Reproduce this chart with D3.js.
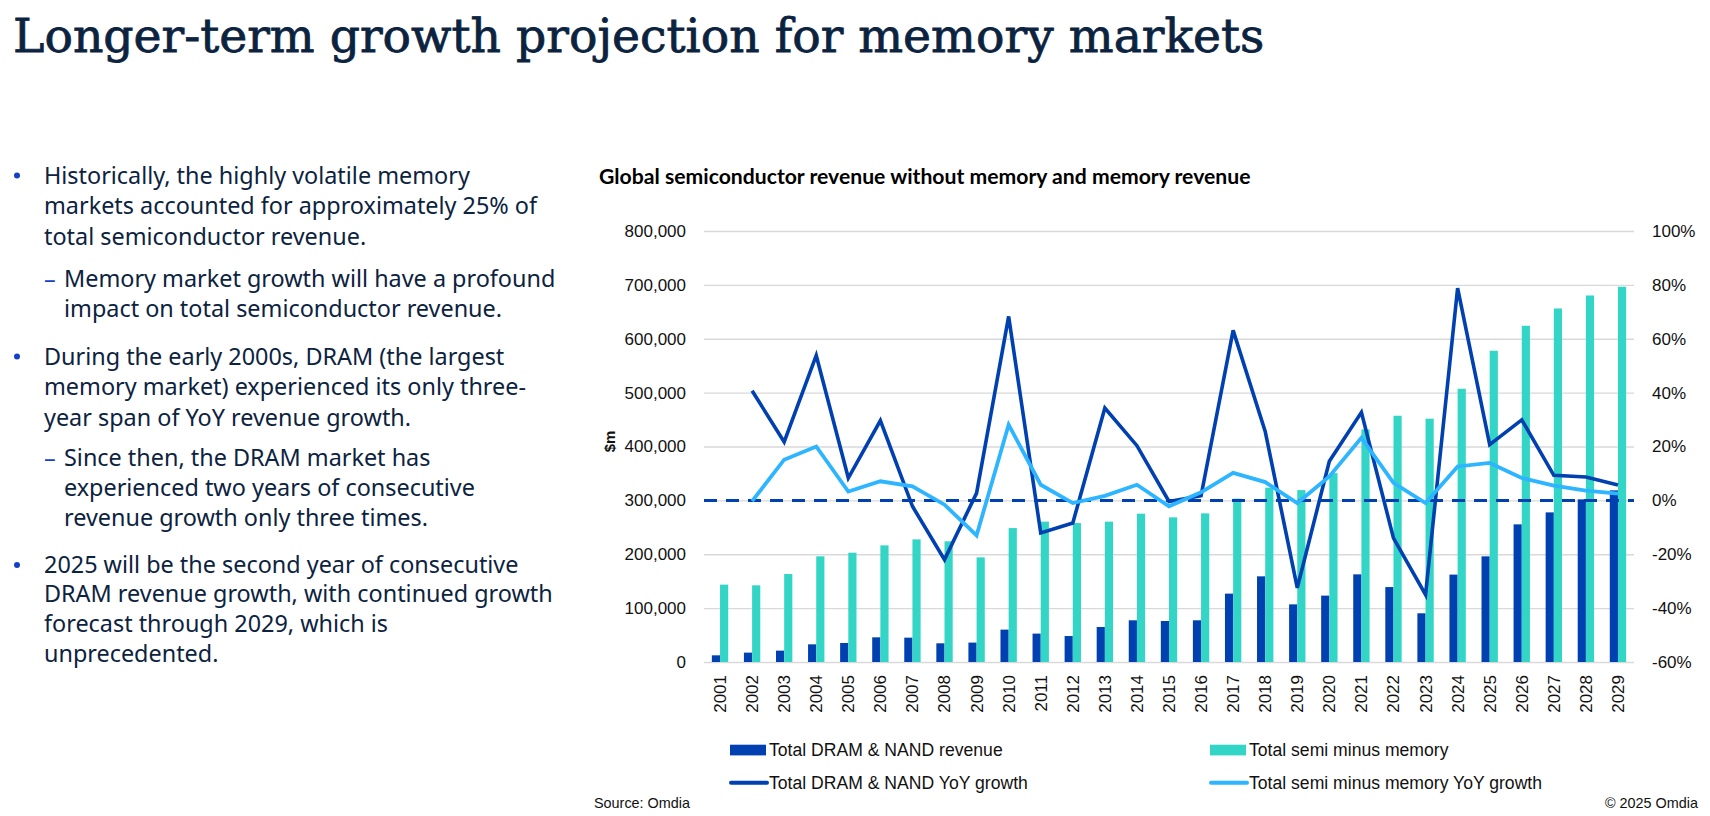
<!DOCTYPE html>
<html>
<head>
<meta charset="utf-8">
<script src="https://cdn.jsdelivr.net/npm/d3@7"></script>
<style>
  body { margin: 0; background: #fff; }
  svg { display: block; }
</style>
</head>
<body>
<div id="chart"></div>
<script>
// values
var years = ["2001","2002","2003","2004","2005","2006","2007","2008","2009","2010",
             "2011","2012","2013","2014","2015","2016","2017","2018","2019","2020",
             "2021","2022","2023","2024","2025","2026","2027","2028","2029"];

var memRevenue = [12400, 17400, 21100, 32800, 35300, 45800, 45200, 34700, 36000, 60100,
                  52700, 48200, 65000, 77400, 76100, 77400, 126900, 159000, 107000, 123200,
                  162700, 139100, 90400, 162200, 196100, 255500, 277700, 301900, 318600];

var semiNoMem = [143600, 142300, 163300, 196100, 202900, 216500, 227600, 224000, 194200, 248600,
                 260500, 257900, 260500, 275300, 268500, 275900, 303200, 323600, 319100, 350600,
                 431700, 457100, 451600, 507200, 577700, 624100, 656200, 680300, 696500];

// YoY growth, 2001 has no value
var memGrowth = [null, 0.407, 0.217, 0.538, 0.083, 0.296, -0.022, -0.220, 0.027, 0.683,
                 -0.121, -0.084, 0.343, 0.203, -0.004, 0.017, 0.631, 0.256, -0.325, 0.145,
                 0.327, -0.140, -0.350, 0.788, 0.207, 0.299, 0.093, 0.087, 0.057];

var semiGrowth = [null, -0.003, 0.151, 0.200, 0.033, 0.071, 0.052, -0.016, -0.130, 0.281,
                  0.058, -0.010, 0.017, 0.058, -0.022, 0.030, 0.102, 0.068, -0.010, 0.089,
                  0.232, 0.065, -0.010, 0.126, 0.139, 0.083, 0.055, 0.036, 0.025];

var leftTicks = [0, 100000, 200000, 300000, 400000, 500000, 600000, 700000, 800000];
var rightTicks = [-0.6, -0.4, -0.2, 0, 0.2, 0.4, 0.6, 0.8, 1.0];

var bullets = [
  {lvl: 0, lines: ["Historically, the highly volatile memory", "markets accounted for approximately 25% of", "total semiconductor revenue."]},
  {lvl: 1, lines: ["Memory market growth will have a profound", "impact on total semiconductor revenue."]},
  {lvl: 0, lines: ["During the early 2000s, DRAM (the largest", "memory market) experienced its only three-", "year span of YoY revenue growth."]},
  {lvl: 1, lines: ["Since then, the DRAM market has", "experienced two years of consecutive", "revenue growth only three times."]},
  {lvl: 0, lines: ["2025 will be the second year of consecutive", "DRAM revenue growth, with continued growth", "forecast through 2029, which is", "unprecedented."]}
];

function init(){
    var W = 1710, H = 816;
    var left = 704, right = 1634, top = 231, bottom = 662;
    var darkBlue = "#0040b0", teal = "#33d6c6", lightBlue = "#2db5ff";
    var navy = "#0c2340";
    var axisFont = "'Liberation Sans', Arial, sans-serif";

    var svg = d3.select("#chart").append("svg")
                .attr("width", W)
                .attr("height", H);

    // page title
    var title = svg.append("text")
        .attr("x", 13)
        .attr("y", 52)
        .style("font-family", "'DejaVu Serif', serif")
        .style("font-size", "52px")
        .style("fill", navy)
        .style("stroke", navy)
        .style("stroke-width", 0.8)
        .text("Longer-term growth projection for memory markets");
    var tl = title.node().getComputedTextLength();
    if (tl > 1252) title.style("font-size", (52 * 1252 / tl) + "px");

    // bullet text
    var lineY = [175.6, 206, 236.6, 279, 308.6, 356.6, 387, 417.7, 458, 487.5, 518, 565, 594, 623.8, 654];
    var k = 0;
    var txt = svg.append("g")
        .style("font-family", "'Noto Sans', 'Open Sans', sans-serif")
        .style("font-size", "23.4px")
        .style("fill", navy);
    bullets.forEach(function(b) {
        var tx = b.lvl == 0 ? 44 : 64;
        if (b.lvl == 0) {
            txt.append("circle").attr("cx", 17).attr("cy", lineY[k]).attr("r", 3).attr("fill", "#1340c8");
        } else {
            txt.append("text").attr("x", 44).attr("y", lineY[k]).attr("dy", "0.35em")
                .style("fill", "#1340c8").text("\u2013");
        }
        b.lines.forEach(function(l) {
            txt.append("text")
                .attr("x", tx)
                .attr("y", lineY[k])
                .attr("dy", "0.35em")
                .text(l);
            k++;
        });
    });

    // chart title
    var ct = svg.append("text")
        .attr("x", 599)
        .attr("y", 176.7)
        .attr("dy", "0.35em")
        .style("font-family", "Lato, sans-serif")
        .style("font-weight", "bold")
        .style("font-size", "19px")
        .style("fill", "#000")
        .text("Global semiconductor revenue without memory and memory revenue");
    var cl = ct.node().getComputedTextLength();
    ct.style("font-size", (19 * 652 / cl) + "px");

    var xscale = d3.scaleBand()
                    .domain(years)
                    .range([left, right])
                    .padding(0);

    var yL = d3.scaleLinear()
                .domain([0, 800000])
                .range([bottom, top]);

    var yR = d3.scaleLinear()
                .domain([-0.6, 1.0])
                .range([bottom, top]);

    // gridlines
    svg.append("g")
        .attr("class", "grid")
        .attr("transform", "translate(" + left + ",0)")
        .call(d3.axisLeft(yL).tickValues(leftTicks).tickSize(-(right - left)).tickFormat(""))
        .call(function(g) { g.select(".domain").remove(); })
        .selectAll("line")
        .attr("stroke", "#d9d9d9")
        .attr("stroke-width", 1.3);

    // left axis
    var la = svg.append("g")
        .attr("transform", "translate(" + left + ",0)")
        .call(d3.axisLeft(yL).tickValues(leftTicks).tickSize(0).tickPadding(18).tickFormat(d3.format(",")));
    la.select(".domain").remove();
    la.selectAll("text").style("font-family", axisFont).style("font-size", "17px").style("fill", "#111");

    // right axis (plain hyphen for negatives, like the original)
    var ra = svg.append("g")
        .attr("transform", "translate(" + right + ",0)")
        .call(d3.axisRight(yR).tickValues(rightTicks).tickSize(0).tickPadding(18)
              .tickFormat(function(d) { return Math.round(d * 100) + "%"; }));
    ra.select(".domain").remove();
    ra.selectAll("text").style("font-family", axisFont).style("font-size", "17px").style("fill", "#111");

    // bottom axis, rotated years
    var ba = svg.append("g")
        .attr("transform", "translate(0," + bottom + ")")
        .call(d3.axisBottom(xscale).tickSize(0));
    ba.select(".domain").remove();
    ba.selectAll("text")
        .style("font-family", axisFont)
        .style("font-size", "17px")
        .style("fill", "#111")
        .attr("text-anchor", "end")
        .attr("transform", "translate(0,13) rotate(-90)")
        .attr("x", 0)
        .attr("y", 0)
        .attr("dy", "0.35em");

    svg.append("text")
        .attr("transform", "translate(610,441.5) rotate(-90)")
        .attr("text-anchor", "middle")
        .attr("dy", "0.35em")
        .style("font-family", axisFont)
        .style("font-weight", "bold")
        .style("font-size", "15px")
        .style("fill", "#111")
        .text("$m");

    var bw = xscale.bandwidth() * 0.255;

    svg.selectAll("rect.mem")
        .data(memRevenue)
        .enter()
        .append("rect")
        .attr("class", "mem")
        .attr("x", function(d, i) { return xscale(years[i]) + xscale.bandwidth() / 2 - bw; })
        .attr("y", function(d) { return yL(d); })
        .attr("width", bw)
        .attr("height", function(d) { return yL(0) - yL(d); })
        .attr("fill", darkBlue);

    svg.selectAll("rect.semi")
        .data(semiNoMem)
        .enter()
        .append("rect")
        .attr("class", "semi")
        .attr("x", function(d, i) { return xscale(years[i]) + xscale.bandwidth() / 2; })
        .attr("y", function(d) { return yL(d); })
        .attr("width", bw)
        .attr("height", function(d) { return yL(0) - yL(d); })
        .attr("fill", teal);

    // zero growth line
    svg.append("line")
        .attr("x1", left)
        .attr("x2", right)
        .attr("y1", yR(0))
        .attr("y2", yR(0))
        .attr("stroke", darkBlue)
        .attr("stroke-width", 3)
        .attr("stroke-dasharray", "13,9");

    var line = d3.line()
        .defined(function(d) { return d != null; })
        .x(function(d, i) { return xscale(years[i]) + xscale.bandwidth() / 2; })
        .y(function(d) { return yR(d); });

    svg.append("path")
        .attr("d", line(memGrowth))
        .attr("fill", "none")
        .attr("stroke", darkBlue)
        .attr("stroke-width", 3.6)
        .attr("stroke-linejoin", "miter");

    svg.append("path")
        .attr("d", line(semiGrowth))
        .attr("fill", "none")
        .attr("stroke", lightBlue)
        .attr("stroke-width", 3.8)
        .attr("stroke-linejoin", "miter");

    // legend
    var legend = [
        {name: "Total DRAM & NAND revenue", type: "rect", color: darkBlue, x: 730, y: 750},
        {name: "Total semi minus memory", type: "rect", color: teal, x: 1210, y: 750},
        {name: "Total DRAM & NAND YoY growth", type: "line", color: darkBlue, x: 730, y: 782.7},
        {name: "Total semi minus memory YoY growth", type: "line", color: lightBlue, x: 1210, y: 782.7}
    ];
    var lg = svg.selectAll("g.leg")
        .data(legend)
        .enter()
        .append("g")
        .attr("class", "leg")
        .attr("transform", function(d) { return "translate(" + d.x + "," + d.y + ")"; });
    lg.filter(function(d) { return d.type == "rect"; })
        .append("rect")
        .attr("x", 0).attr("y", -5.3).attr("width", 36).attr("height", 10.7)
        .attr("fill", function(d) { return d.color; });
    lg.filter(function(d) { return d.type == "line"; })
        .append("line")
        .attr("x1", 1).attr("x2", 37).attr("y1", 0).attr("y2", 0)
        .attr("stroke", function(d) { return d.color; })
        .attr("stroke-width", 4)
        .attr("stroke-linecap", "round");
    lg.append("text")
        .attr("x", 39)
        .attr("dy", "0.35em")
        .style("font-family", axisFont)
        .style("font-size", "17.6px")
        .style("fill", "#111")
        .text(function(d) { return d.name; });

    svg.append("text")
        .attr("x", 594).attr("y", 802.7).attr("dy", "0.35em")
        .style("font-family", axisFont).style("font-size", "14.4px").style("fill", "#111")
        .text("Source: Omdia");

    svg.append("text")
        .attr("x", 1698).attr("y", 802.7).attr("dy", "0.35em")
        .attr("text-anchor", "end")
        .style("font-family", axisFont).style("font-size", "14.4px").style("fill", "#111")
        .text("\u00a9 2025 Omdia");
}
window.onload = init;
</script>
</body>
</html>
